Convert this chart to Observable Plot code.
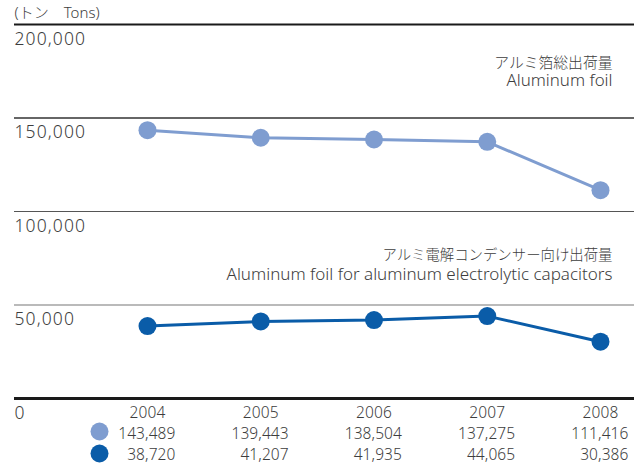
<!DOCTYPE html>
<html>
<head>
<meta charset="utf-8">
<script src="https://cdn.jsdelivr.net/npm/d3@7"></script>
<script src="https://cdn.jsdelivr.net/npm/@observablehq/plot@0.6"></script>
<style>
  html, body { margin: 0; padding: 0; background: #fff; }
  #chart g[font-size="17.5"] text { letter-spacing: 1.1px; }
  #chart g[font-size="15.5"] text { letter-spacing: 0.1px; }
</style>
</head>
<body>
<div id="chart"></div>
<script>
const years = [2004, 2005, 2006, 2007, 2008];
const foilTotal = [143489, 139443, 138504, 137275, 111416];
const capacitorFoil = [38720, 41207, 41935, 44065, 30386];
const yTicks = [0, 50000, 100000, 150000, 200000];
const unitLabel = "(トン　Tons)";
const seriesJa = ["アルミ箔総出荷量", "アルミ電解コンデンサー向け出荷量"];
const seriesEn = ["Aluminum foil", "Aluminum foil for aluminum electrolytic capacitors"];
const colors = ["#7f9dd0", "#0a5ca8"];

const fmt = d3.format(",");
const font = "'Noto Sans', 'Noto Sans CJK JP', sans-serif";
const rows1 = years.map((x, i) => ({x, v: foilTotal[i]}));
const rows2 = years.map((x, i) => ({x, v: capacitorFoil[i]}));

const chart = Plot.plot({
  width: 634,
  height: 465,
  marginLeft: 14,
  marginRight: 0,
  marginTop: 24,
  marginBottom: 67,
  x: {domain: [2004, 2008], insetLeft: 133, insetRight: 34, axis: null},
  y: {domain: [0, 200000], axis: null},
  style: {fontFamily: font, color: "#3d3d3d", background: "#fff", overflow: "visible"},
  marks: [
    Plot.ruleY([yTicks[4]], {stroke: "#1a1a1a", strokeWidth: 2.2}),
    Plot.ruleY([yTicks[3]], {stroke: "#333", strokeWidth: 1.3}),
    Plot.ruleY([yTicks[2]], {stroke: "#555", strokeWidth: 1.1}),
    Plot.ruleY([yTicks[1]], {stroke: "#777", strokeWidth: 1.2}),
    Plot.ruleY([yTicks[0]], {stroke: "#1a1a1a", strokeWidth: 2.8}),
    Plot.text(yTicks, {y: d => d, frameAnchor: "left", textAnchor: "start", lineAnchor: "bottom", dy: 20, text: d => fmt(d), fontSize: 17.5, fontWeight: 300, fill: "#3d3d3d"}),
    Plot.text([unitLabel], {frameAnchor: "top-left", textAnchor: "start", lineAnchor: "bottom", dy: -7, fontSize: 15, fontWeight: 300, fill: "#3d3d3d"}),
    Plot.text([seriesJa[0]], {frameAnchor: "top-right", textAnchor: "end", lineAnchor: "bottom", dx: -22, dy: 43, fontSize: 14.8, fontWeight: 300, fill: "#3d3d3d"}),
    Plot.text([seriesEn[0]], {frameAnchor: "top-right", textAnchor: "end", lineAnchor: "bottom", dx: -22, dy: 61, fontSize: 16.9, fontWeight: 300, fill: "#3d3d3d"}),
    Plot.text([seriesJa[1]], {frameAnchor: "top-right", textAnchor: "end", lineAnchor: "bottom", dx: -22, dy: 235, fontSize: 14.4, fontWeight: 300, fill: "#3d3d3d"}),
    Plot.text([seriesEn[1]], {frameAnchor: "top-right", textAnchor: "end", lineAnchor: "bottom", dx: -22, dy: 255, fontSize: 17, fontWeight: 300, fill: "#3d3d3d"}),
    Plot.line(rows1, {x: "x", y: "v", stroke: colors[0], strokeWidth: 3}),
    Plot.dot(rows1, {x: "x", y: "v", r: 9, fill: colors[0]}),
    Plot.line(rows2, {x: "x", y: "v", stroke: colors[1], strokeWidth: 3}),
    Plot.dot(rows2, {x: "x", y: "v", r: 9, fill: colors[1]}),
    // bottom table
    Plot.text(years, {x: d => d, frameAnchor: "bottom", lineAnchor: "bottom", dy: 19, text: d => String(d), fontSize: 15.5, fontWeight: 300, fill: "#3d3d3d"}),
    Plot.text(rows1, {x: "x", frameAnchor: "bottom", lineAnchor: "bottom", textAnchor: "end", dx: 28, dy: 40, text: d => fmt(d.v), fontSize: 15.5, fontWeight: 300, fill: "#3d3d3d"}),
    Plot.text(rows2, {x: "x", frameAnchor: "bottom", lineAnchor: "bottom", textAnchor: "end", dx: 28, dy: 61, text: d => fmt(d.v), fontSize: 15.5, fontWeight: 300, fill: "#3d3d3d"}),
    Plot.dot([0], {x: () => years[0], frameAnchor: "bottom", dx: -48, dy: 33, r: 9, fill: colors[0]}),
    Plot.dot([1], {x: () => years[0], frameAnchor: "bottom", dx: -48, dy: 55, r: 9, fill: colors[1]})
  ]
});
document.getElementById("chart").appendChild(chart);
</script>
</body>
</html>
